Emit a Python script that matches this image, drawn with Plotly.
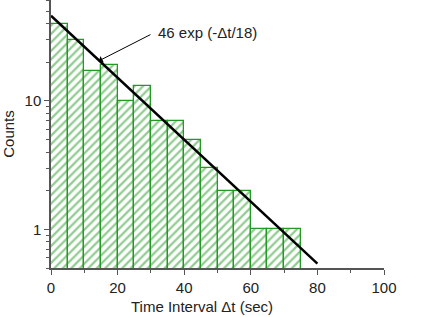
import numpy as np
import plotly.graph_objects as go

bin_starts = [0, 5, 10, 15, 20, 25, 30, 35, 40, 45, 50, 55, 60, 65, 70]
bin_width = 5
counts = [40, 30, 17, 19, 10, 13, 7, 7, 5, 3, 2, 2, 1, 1, 1]
fit_amp = 46
fit_tau = 18
fit_t = [0, 80]
x_tick_vals = [0, 20, 40, 60, 80, 100]
y_tick_vals = [1, 10]
y_minor_vals = [0.5, 0.6, 0.7, 0.8, 0.9, 2, 3, 4, 5, 6, 7, 8, 9, 20, 30, 40, 50, 60]

green = "#229922"
fig = go.Figure()
fig.add_trace(go.Bar(
    x=[s + bin_width / 2 for s in bin_starts], y=counts, width=bin_width,
    marker=dict(color="white", line=dict(color=green, width=1.3),
                pattern=dict(shape="/", fgcolor=green, bgcolor="white", size=6, solidity=0.38)),
    showlegend=False,
))
t = np.linspace(fit_t[0], fit_t[1], 50)
fig.add_trace(go.Scatter(x=t, y=fit_amp * np.exp(-t / fit_tau), mode="lines",
                         line=dict(color="black", width=2.5), showlegend=False))

font = dict(family="Liberation Sans, Arial, sans-serif", size=15, color="#222")
tfont = dict(family="Liberation Sans, Arial, sans-serif", size=15, color="#222")
fig.update_layout(
    width=442, height=317, margin=dict(l=51, r=58, t=0, b=49),
    plot_bgcolor="white", paper_bgcolor="white", font=font, bargap=0,
    xaxis=dict(range=[0, 100], tickvals=x_tick_vals, ticks="outside", ticklen=5, tickwidth=1.2,
               tickcolor="#555", showline=True, linecolor="#555", linewidth=1.5, showgrid=False,
               zeroline=False, automargin=False,
               minor=dict(tickvals=[10, 30, 50, 70, 90], ticks="outside", ticklen=3, tickcolor="#555")),
    yaxis=dict(type="log", range=[np.log10(0.5), np.log10(61)], tickvals=y_tick_vals,
               ticks="outside", ticklen=5, tickwidth=1.2, tickcolor="#555",
               showline=True, linecolor="#555", linewidth=1.5, showgrid=False, zeroline=False,
               automargin=False, title=dict(text="Counts", standoff=6, font=tfont),
               minor=dict(tickvals=y_minor_vals, ticks="outside", ticklen=3, tickcolor="#555")),
)
fig.add_annotation(x=45.3, y=-0.142, xref="x", yref="paper", text="Time Interval Δt (sec)",
                   showarrow=False, xanchor="center", yanchor="middle", font=tfont)
fig.add_annotation(x=14.4, y=np.log10(20.5), xref="x", yref="y", text="", showarrow=True,
                   ax=53, ay=-27, arrowhead=1, arrowsize=1.2, arrowwidth=1, arrowcolor="black")
fig.add_annotation(x=31.5, y=np.log10(34.2), xref="x", yref="y", text="46 exp (-Δt/18)",
                   showarrow=False, xanchor="left", yanchor="middle", font=tfont)
fig.write_html("out.html", config={"displayModeBar": False},
               post_script="document.body.style.margin='0';document.body.style.overflow='hidden';")
